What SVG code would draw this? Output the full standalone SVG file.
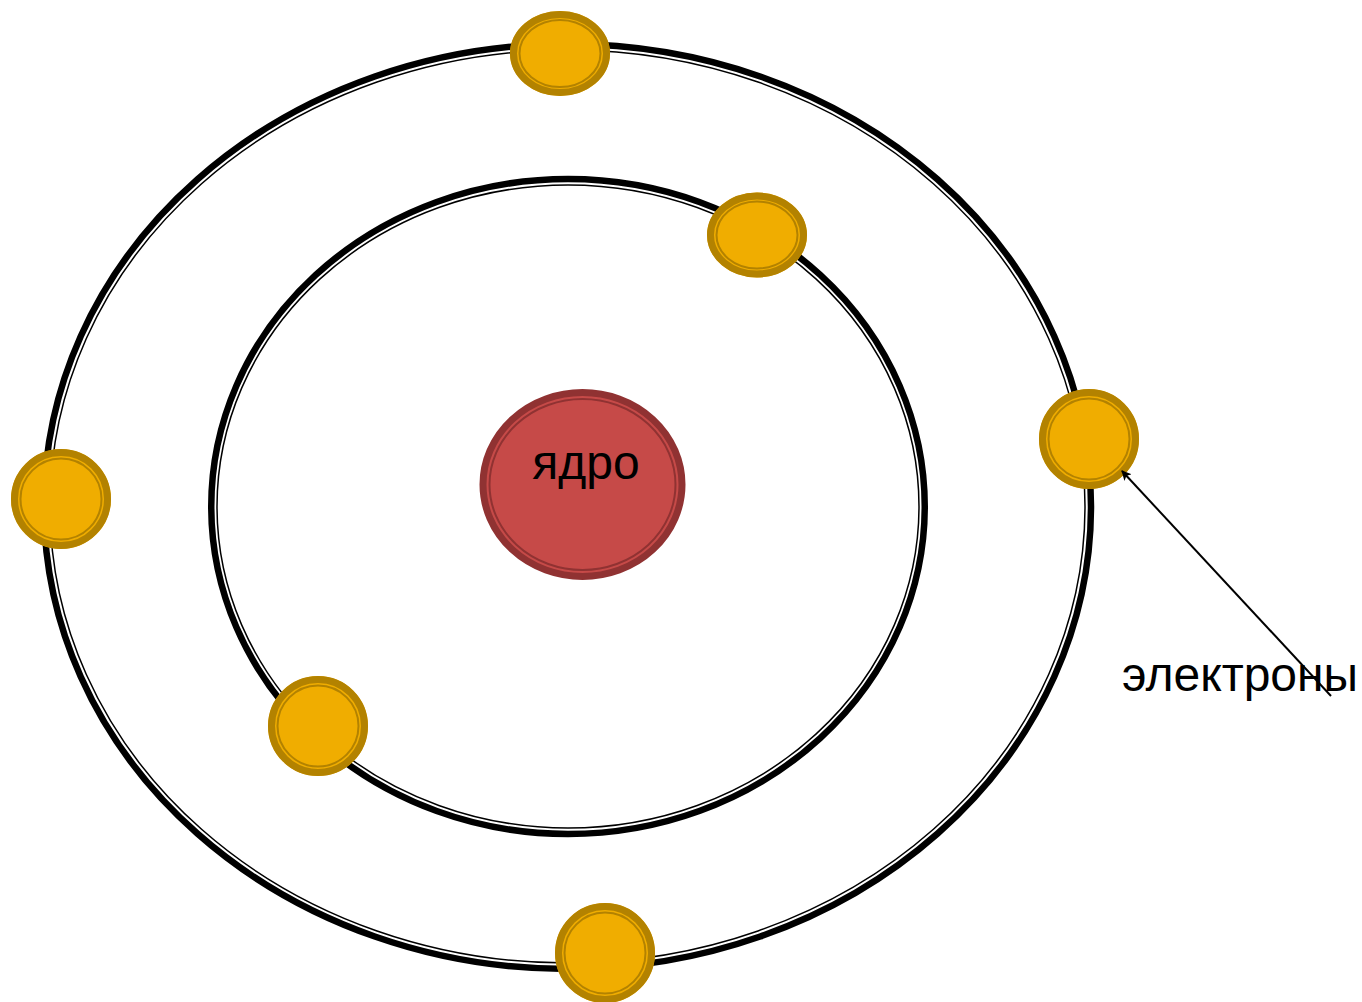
<svg xmlns="http://www.w3.org/2000/svg" width="1362" height="1002" viewBox="0 0 1362 1002">
  <style>
    .orbit-thick { fill: none; stroke: #000; stroke-width: 6.5; }
    .orbit-thin { fill: none; stroke: #000; stroke-width: 1.5; }
    .e-fill { fill: #f0ad00; }
    .e-band { fill: none; stroke: #b38200; stroke-width: 7; }
    .e-line { fill: none; stroke: #b38200; stroke-width: 2; }
    .n-fill { fill: #c64a48; }
    .n-band { fill: none; stroke: #903232; stroke-width: 7; }
    .n-line { fill: none; stroke: #903232; stroke-width: 2; }
    text { font-family: "Liberation Sans", Arial, sans-serif; font-size: 48px; fill: #000; }
  </style>
  <defs>
    <marker id="arrow" viewBox="0 0 10 10" refX="9" refY="5" markerWidth="10" markerHeight="10" markerUnits="userSpaceOnUse" orient="auto">
      <path d="M10 5 L0 0 L2.5 5 L0 10 Z" fill="#000"/>
    </marker>
  </defs>

  <g id="orbit-outer">
    <ellipse class="orbit-thick" cx="567.5" cy="506.5" rx="523.5" ry="462.5"/>
    <ellipse class="orbit-thin" cx="567.5" cy="506.5" rx="517.5" ry="456.5"/>
  </g>
  <g id="orbit-inner">
    <ellipse class="orbit-thick" cx="568" cy="506.5" rx="356.75" ry="327.5"/>
    <ellipse class="orbit-thin" cx="568" cy="506.5" rx="351" ry="321.5"/>
  </g>

  <g id="nucleus">
    <ellipse class="n-fill" cx="582.5" cy="484.5" rx="102" ry="94.5"/>
    <ellipse class="n-band" cx="582.5" cy="484.5" rx="99.5" ry="92"/>
    <ellipse class="n-line" cx="582.5" cy="484.5" rx="93" ry="85.5"/>
    <text x="586" y="478.5" text-anchor="middle">ядро</text>
  </g>

  <g id="electron-top">
    <ellipse class="e-fill" cx="560" cy="53.5" rx="50" ry="42.5"/>
    <ellipse class="e-band" cx="560" cy="53.5" rx="46.5" ry="39"/>
    <ellipse class="e-line" cx="560" cy="53.5" rx="40.5" ry="33.5"/>
  </g>
  <g id="electron-inner-top">
    <ellipse class="e-fill" cx="757" cy="235" rx="50" ry="42.5"/>
    <ellipse class="e-band" cx="757" cy="235" rx="46.5" ry="39"/>
    <ellipse class="e-line" cx="757" cy="235" rx="40.5" ry="33.5"/>
  </g>
  <g id="electron-right">
    <circle class="e-fill" cx="1089" cy="439" r="50"/>
    <circle class="e-band" cx="1089" cy="439" r="46.5"/>
    <circle class="e-line" cx="1089" cy="439" r="40.5"/>
  </g>
  <g id="electron-left">
    <circle class="e-fill" cx="61" cy="499" r="50"/>
    <circle class="e-band" cx="61" cy="499" r="46.5"/>
    <circle class="e-line" cx="61" cy="499" r="40.5"/>
  </g>
  <g id="electron-inner-bottom">
    <circle class="e-fill" cx="318" cy="726" r="50"/>
    <circle class="e-band" cx="318" cy="726" r="46.5"/>
    <circle class="e-line" cx="318" cy="726" r="40.5"/>
  </g>
  <g id="electron-bottom">
    <circle class="e-fill" cx="605" cy="953" r="50"/>
    <circle class="e-band" cx="605" cy="953" r="46.5"/>
    <circle class="e-line" cx="605" cy="953" r="40.5"/>
  </g>

  <g id="label-electrons">
    <text x="1122" y="691">электроны</text>
  </g>

  <g id="connectors">
    <line x1="1331" y1="696" x2="1122" y2="471" stroke="#000" stroke-width="2" marker-end="url(#arrow)"/>
  </g>
</svg>
